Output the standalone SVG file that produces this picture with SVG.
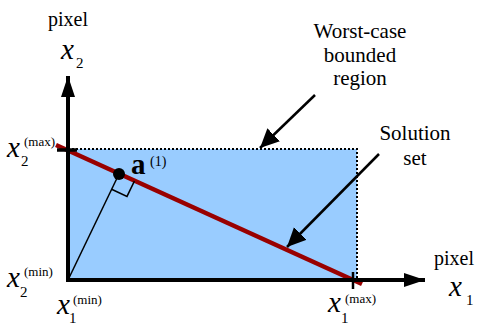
<svg xmlns="http://www.w3.org/2000/svg" width="479" height="326" viewBox="0 0 479 326" font-family="Liberation Serif">
<style>
text, tspan{font-family:'Liberation Serif',serif !important}
.lbl{font-size:20px}
.var{font-size:29px;font-style:italic}
.sub{font-size:15px}
.sup{font-size:13px}
.axis{stroke:#000;stroke-width:4;fill:none}
.call{stroke:#000;stroke-width:2.5;fill:none}
.dot{stroke:#000;stroke-width:2;stroke-dasharray:2 2;fill:none}
</style>
<defs>
<marker id="axh" markerUnits="userSpaceOnUse" markerWidth="22" markerHeight="14" refX="21" refY="7" orient="auto">
<path d="M0,0 L21,7 L0,14 z" fill="#000"/>
</marker>
<marker id="cah" markerUnits="userSpaceOnUse" markerWidth="20" markerHeight="20" refX="19" refY="9" orient="auto">
<path d="M0,0 L19,9 L0,18 z" fill="#000"/>
</marker>
</defs>
<g id="region">
<rect x="68" y="149" width="289" height="131" fill="#99ccff"/>
<path class="dot" d="M68,149 H357 V280"/>
</g>
<g id="solution-set">
<line x1="56" y1="145" x2="362" y2="284" stroke="#990000" stroke-width="4.5"/>
</g>
<g id="connectors">
<line class="axis" x1="68" y1="282" x2="68" y2="76" marker-end="url(#axh)"/>
<line class="axis" x1="66" y1="280" x2="425" y2="280" marker-end="url(#axh)"/>
<line x1="57" y1="150" x2="77" y2="150" stroke="#000" stroke-width="3.5"/>
<line x1="353" y1="272" x2="353" y2="289" stroke="#000" stroke-width="2.5"/>
<line x1="68" y1="280" x2="119" y2="174" stroke="#000" stroke-width="1.5"/>
<path d="M111.6,189.3 L127,196.4 L134.4,181.1" stroke="#000" stroke-width="1.5" fill="none"/>
<line class="call" x1="315" y1="95" x2="260" y2="148" marker-end="url(#cah)"/>
<line class="call" x1="379" y1="154" x2="287" y2="247" marker-end="url(#cah)"/>
</g>
<g id="point-a1">
<circle cx="119" cy="174" r="6" fill="#000"/>
<text x="131" y="174" style="font-family:'Liberation Serif',serif;font-size:29px;font-weight:bold">a</text>
<text x="150" y="166" style="font-family:'Liberation Serif',serif;font-size:14px">(1)</text>
</g>
<g id="y-axis-label">
<text x="68" y="26" class="lbl" text-anchor="middle" style="font-family:'Liberation Serif',serif">pixel</text>
<text x="61" y="59" class="var" style="font-family:'Liberation Serif',serif">x</text>
<text x="76" y="68" class="sub" style="font-family:'Liberation Serif',serif">2</text>
</g>
<g id="x-axis-label">
<text x="454" y="265" class="lbl" text-anchor="middle" style="font-family:'Liberation Serif',serif">pixel</text>
<text x="449" y="296" class="var" style="font-family:'Liberation Serif',serif">x</text>
<text x="466" y="305" class="sub" style="font-family:'Liberation Serif',serif">1</text>
</g>
<g id="x2-max">
<text x="7" y="157" class="var" style="font-family:'Liberation Serif',serif">x</text>
<text x="24" y="146" class="sup" style="font-family:'Liberation Serif',serif">(max)</text>
<text x="21" y="166" class="sub" style="font-family:'Liberation Serif',serif">2</text>
</g>
<g id="x2-min">
<text x="7" y="287" class="var" style="font-family:'Liberation Serif',serif">x</text>
<text x="24" y="276" class="sup" style="font-family:'Liberation Serif',serif">(min)</text>
<text x="20" y="297" class="sub" style="font-family:'Liberation Serif',serif">2</text>
</g>
<g id="x1-min">
<text x="57" y="314" class="var" style="font-family:'Liberation Serif',serif">x</text>
<text x="73" y="304" class="sup" style="font-family:'Liberation Serif',serif">(min)</text>
<text x="69" y="323" class="sub" style="font-family:'Liberation Serif',serif">1</text>
</g>
<g id="x1-max">
<text x="328" y="312" class="var" style="font-family:'Liberation Serif',serif">x</text>
<text x="345" y="303" class="sup" style="font-family:'Liberation Serif',serif">(max)</text>
<text x="341" y="323" class="sub" style="font-family:'Liberation Serif',serif">1</text>
</g>
<g id="worst-case-label">
<text class="lbl" text-anchor="middle" style="font-family:'Liberation Serif',serif;font-size:21px"><tspan x="360" y="38">Worst-case</tspan><tspan x="360" y="62">bounded</tspan><tspan x="360" y="85">region</tspan></text>
</g>
<g id="solution-label">
<text class="lbl" text-anchor="middle" style="font-family:'Liberation Serif',serif;font-size:21px"><tspan x="415" y="140">Solution</tspan><tspan x="415" y="165">set</tspan></text>
</g>
</svg>
